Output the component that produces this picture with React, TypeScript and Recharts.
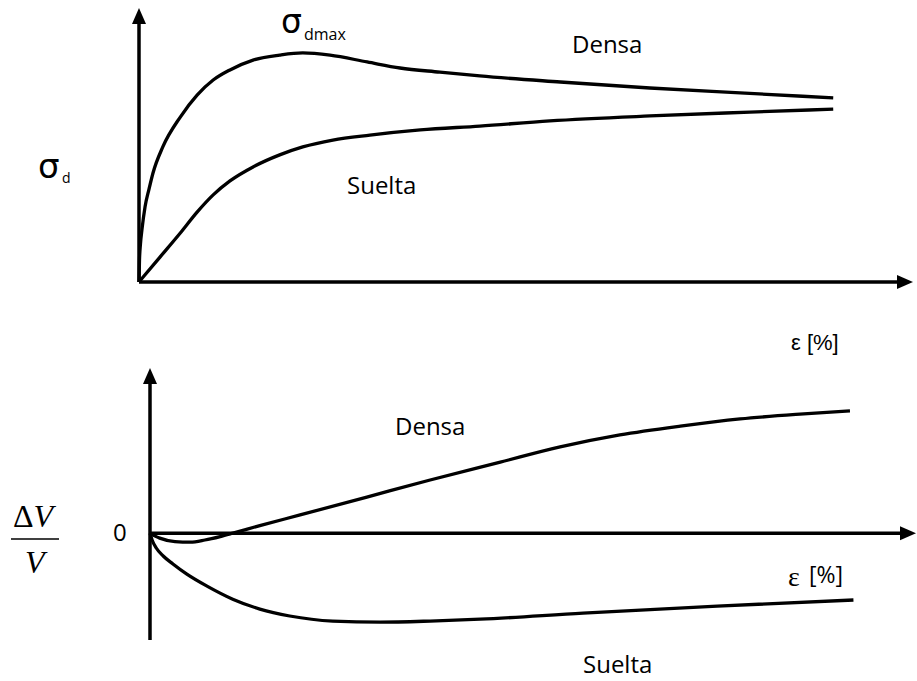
import React from "react";
import { Line, LineChart, ReferenceLine, XAxis, YAxis } from "recharts";

// Curva esfuerzo-deformación (σd vs ε), unidades arbitrarias
const densaSigmaX = [0, 0.007, 0.021, 0.043, 0.086, 0.143, 0.2, 0.34, 0.59, 0.83, 1.06, 1.3, 1.63, 2.01, 2.34, 2.73, 3.26, 3.73, 4.3, 4.87, 6.02, 7.3, 8.59, 9.92];
const densaSigmaY = [0, 0.8, 1.39, 1.93, 2.74, 3.39, 3.98, 4.93, 6.02, 6.82, 7.37, 7.74, 8.1, 8.28, 8.36, 8.28, 8.03, 7.81, 7.66, 7.52, 7.3, 7.08, 6.9, 6.72];
const sueltaSigmaX = [0, 0.3, 0.59, 0.83, 1.06, 1.3, 1.63, 2.01, 2.34, 2.77, 3.3, 4.02, 4.87, 5.87, 7.3, 8.73, 9.92];
const sueltaSigmaY = [0, 0.91, 1.79, 2.55, 3.18, 3.69, 4.2, 4.64, 4.93, 5.18, 5.36, 5.55, 5.69, 5.88, 6.06, 6.2, 6.31];

// Cambio de volumen (ΔV/V vs ε)
const densaVolX = [0, 0.14, 0.36, 0.58, 0.79, 1.01, 1.22, 1.58, 2.16, 3.12, 4.03, 5.04, 5.9, 6.76, 7.63, 8.49, 9.35, 10.07];
const densaVolY = [0, -0.18, -0.31, -0.33, -0.25, -0.12, 0.03, 0.29, 0.69, 1.36, 2.0, 2.67, 3.24, 3.69, 4.02, 4.29, 4.47, 4.59];
const sueltaVolX = [0, 0.03, 0.09, 0.19, 0.33, 0.53, 0.82, 1.19, 1.58, 2.01, 2.63, 3.31, 4.03, 4.75, 6.23, 8.16, 10.12];
const sueltaVolY = [0, -0.25, -0.55, -0.85, -1.15, -1.53, -1.98, -2.47, -2.84, -3.1, -3.29, -3.33, -3.29, -3.22, -2.99, -2.73, -2.5];

// Extensión de los ejes
const topX: [number, number] = [0, 11.06];
const topY: [number, number] = [0, 10];
const botX: [number, number] = [0, 11.02];
const botY: [number, number] = [-4, 6.2];

const zip = (xs: number[], ys: number[]) => xs.map((x, i) => ({ x, y: ys[i] }));

// eje con punta de flecha en el extremo final
const ArrowAxis = (p: any) => {
  const { x1, y1, x2, y2 } = p;
  const dx = x2 - x1;
  const dy = y2 - y1;
  const len = Math.hypot(dx, dy) || 1;
  const ux = dx / len;
  const uy = dy / len;
  const L = 16;
  const W = 7;
  const bx = x2 - ux * L;
  const by = y2 - uy * L;
  return (
    <g>
      <line x1={x1} y1={y1} x2={bx + ux * 2} y2={by + uy * 2} stroke="#000" strokeWidth={3.5} />
      <polygon
        points={`${x2},${y2} ${bx - uy * W},${by + ux * W} ${bx + uy * W},${by - ux * W}`}
        fill="#000"
      />
    </g>
  );
};

const curve = (data: { x: number; y: number }[], name: string) => (
  <Line
    key={name}
    data={data}
    dataKey="y"
    name={name}
    type="monotone"
    stroke="#000"
    strokeWidth={3.3}
    dot={false}
    activeDot={false}
    isAnimationActive={false}
  />
);

const sans = "'Open Sans', sans-serif";
const serif = "'Liberation Serif', serif";

export default function App() {
  return (
    <div style={{ position: "absolute", left: 0, top: 0, width: 917, height: 681, background: "#fff" }}>
      <div style={{ position: "absolute", left: 0, top: 0 }}>
        <LineChart width={917} height={300} margin={{ top: 8, right: 4, bottom: 18, left: 139 }}>
          <XAxis type="number" dataKey="x" domain={topX} hide />
          <YAxis type="number" domain={topY} hide />
          <ReferenceLine segment={[{ x: 0, y: 0 }, { x: topX[1], y: 0 }]} ifOverflow="visible" shape={ArrowAxis} />
          <ReferenceLine segment={[{ x: 0, y: 0 }, { x: 0, y: topY[1] }]} ifOverflow="visible" shape={ArrowAxis} />
          {curve(zip(densaSigmaX, densaSigmaY), "Densa")}
          {curve(zip(sueltaSigmaX, sueltaSigmaY), "Suelta")}
        </LineChart>
      </div>
      <div style={{ position: "absolute", left: 0, top: 330 }}>
        <LineChart width={917} height={330} margin={{ top: 38, right: 1, bottom: 20, left: 150 }}>
          <XAxis type="number" dataKey="x" domain={botX} hide />
          <YAxis type="number" domain={botY} hide />
          <ReferenceLine segment={[{ x: 0, y: 0 }, { x: botX[1], y: 0 }]} ifOverflow="visible" shape={ArrowAxis} />
          <ReferenceLine segment={[{ x: 0, y: botY[0] }, { x: 0, y: botY[1] }]} ifOverflow="visible" shape={ArrowAxis} />
          {curve(zip(densaVolX, densaVolY), "Densa")}
          {curve(zip(sueltaVolX, sueltaVolY), "Suelta")}
        </LineChart>
      </div>
      <svg width={917} height={681} style={{ position: "absolute", left: 0, top: 0, pointerEvents: "none" }}>
        <g fill="#000">
          {/* gráfico superior */}
          <text x={281} y={33} fontFamily="'DejaVu Sans'" fontSize={33}>σ</text>
          <text x={304} y={40} fontFamily={sans} fontSize={16}>dmax</text>
          <text x={572} y={53} fontFamily={sans} fontSize={24}>Densa</text>
          <text x={38} y={178} fontFamily="'DejaVu Sans'" fontSize={34}>σ</text>
          <text x={62} y={183} fontFamily={sans} fontSize={14}>d</text>
          <text x={347} y={194} fontFamily={sans} fontSize={24}>Suelta</text>
          <text x={791} y={350} fontFamily="'Liberation Sans Narrow', 'Liberation Sans'" fontSize={22}>ε [%]</text>
          {/* gráfico inferior */}
          <text x={395} y={435} fontFamily={sans} fontSize={24}>Densa</text>
          <text x={113} y={541} fontFamily={sans} fontSize={24}>0</text>
          <text x={13} y={527} fontFamily={serif} fontSize={32}>
            <tspan>Δ</tspan>
            <tspan fontStyle="italic">V</tspan>
          </text>
          <line x1={11} y1={539} x2={59} y2={539} stroke="#000" strokeWidth={1.5} />
          <text x={25} y={573} fontFamily={serif} fontSize={32} fontStyle="italic">V</text>
          <text x={788} y={586} fontFamily={serif} fontSize={28}>ε</text>
          <text x={809} y={583} fontFamily={sans} fontSize={23}>[%]</text>
          <text x={583} y={673} fontFamily={sans} fontSize={24}>Suelta</text>
        </g>
      </svg>
    </div>
  );
}
